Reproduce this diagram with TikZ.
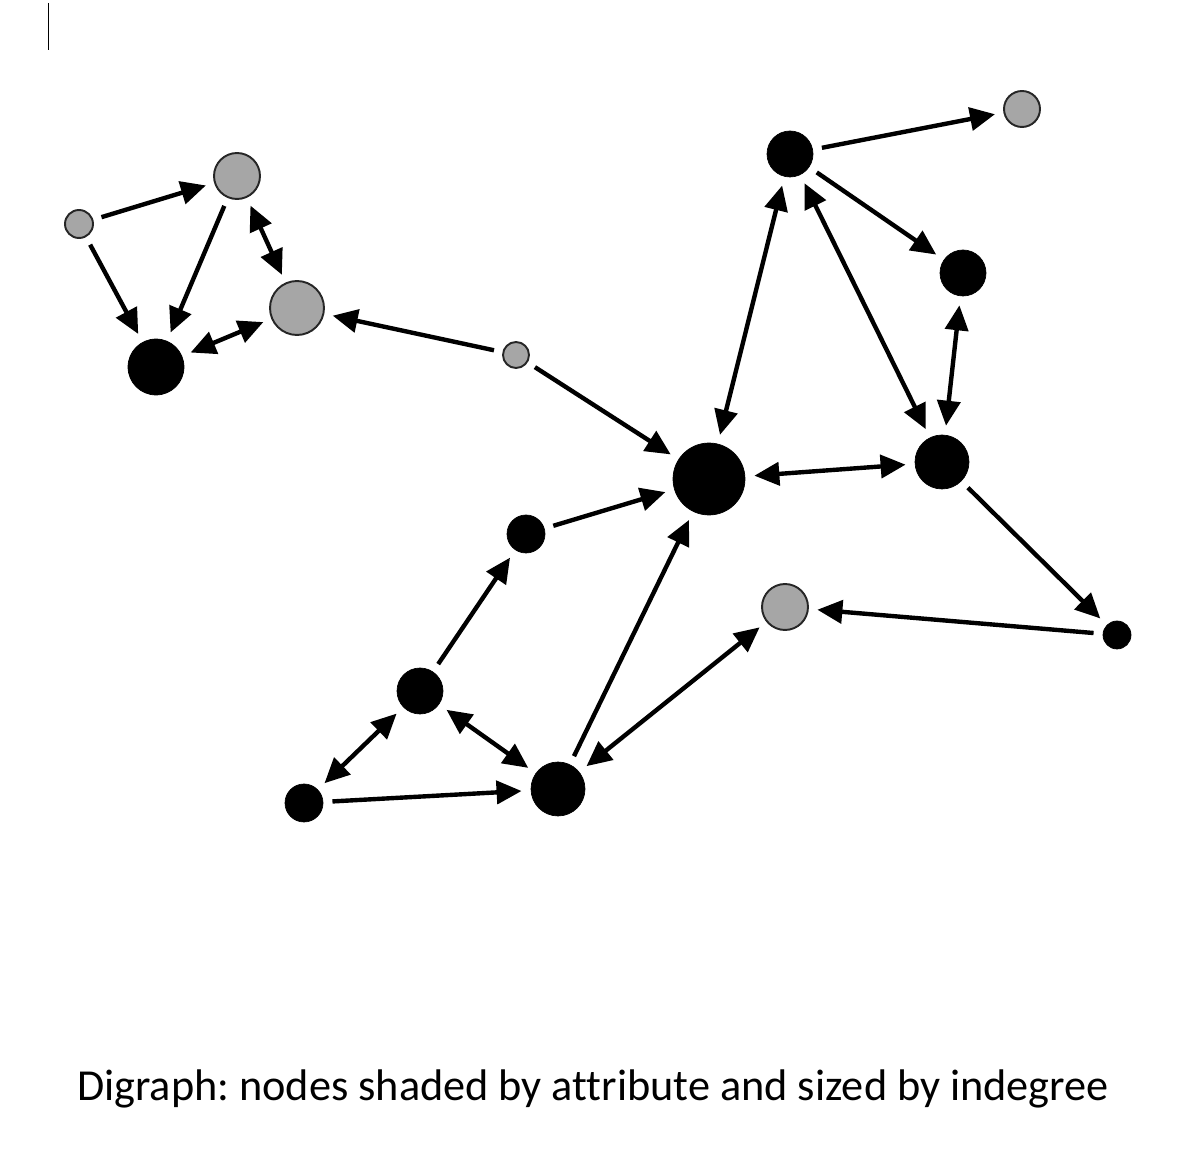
\documentclass[tikz,border=0pt]{standalone}
\usepackage{fontspec}
\setmainfont[Ligatures=NoCommon]{Carlito}
\usetikzlibrary{arrows.meta}
\tikzset{
  blk/.style={circle,draw=black,fill=black,inner sep=0pt,outer sep=0.19cm},
  gry/.style={circle,draw=black!85,line width=1.1pt,fill=black!35,inner sep=0pt,outer sep=0.19cm},
  one/.style={line width=2.5pt,-{Triangle[length=0.5cm,width=0.46cm]}},
  two/.style={line width=2.5pt,{Triangle[length=0.5cm,width=0.46cm]}-{Triangle[length=0.5cm,width=0.46cm]}}
}

\begin{document}
\frenchspacing
\begin{tikzpicture}[x=0.02cm,y=-0.02cm]

\useasboundingbox (0,0) rectangle (1198,1158);

\draw[line width=1.1pt] (48.5,3) -- (48.5,50);

% left group
\node[gry,minimum size=0.56cm] (a) at (79,224) {};
\node[gry,minimum size=0.92cm] (b) at (237,176) {};
\node[gry,minimum size=1.08cm] (c) at (297,308) {};
\node[blk,minimum size=1.12cm] (d) at (156,367) {};
\node[gry,minimum size=0.52cm] (e) at (516,355) {};

% right group
\node[blk,minimum size=1.44cm] (f) at (709,479) {};
\node[blk,minimum size=0.92cm] (g) at (790,154) {};
\node[gry,minimum size=0.72cm] (h) at (1022,109) {};
\node[blk,minimum size=0.92cm] (i) at (963,273) {};
\node[blk,minimum size=1.08cm] (j) at (942,462) {};
\node[blk,minimum size=0.56cm] (k) at (1117,635) {};
\node[gry,minimum size=0.92cm] (l) at (785,607) {};

% lower group
\node[blk,minimum size=0.76cm] (m) at (526,534) {};
\node[blk,minimum size=0.92cm] (n) at (420,691) {};
\node[blk,minimum size=0.76cm] (o) at (304,803) {};
\node[blk,minimum size=1.08cm] (p) at (558,789) {};

\draw[one] (a) -- (b);
\draw[one] (a) -- (d);
\draw[one] (b) -- (d);
\draw[two] (b) -- (c);
\draw[two] (c) -- (d);
\draw[one] (e) -- (c);
\draw[one] (e) -- (f);

\draw[two] (g) -- (f);
\draw[one] (g) -- (h);
\draw[one] (g) -- (i);
\draw[two] (g) -- (j);
\draw[two] (i) -- (j);
\draw[two] (f) -- (j);
\draw[one] (j) -- (k);
\draw[one] (k) -- (l);

\draw[one] (m) -- (f);
\draw[one] (n) -- (m);
\draw[two] (n) -- (o);
\draw[two] (n) -- (p);
\draw[one] (o) -- (p);
\draw[one] (p) -- (f);
\draw[two] (p) -- (l);

\node[anchor=base,font=\fontsize{25.2}{29}\selectfont] (cap) at (593,1100)
  {Digraph: nodes shaded by attribute and sized by indegree};

\end{tikzpicture}
\end{document}
